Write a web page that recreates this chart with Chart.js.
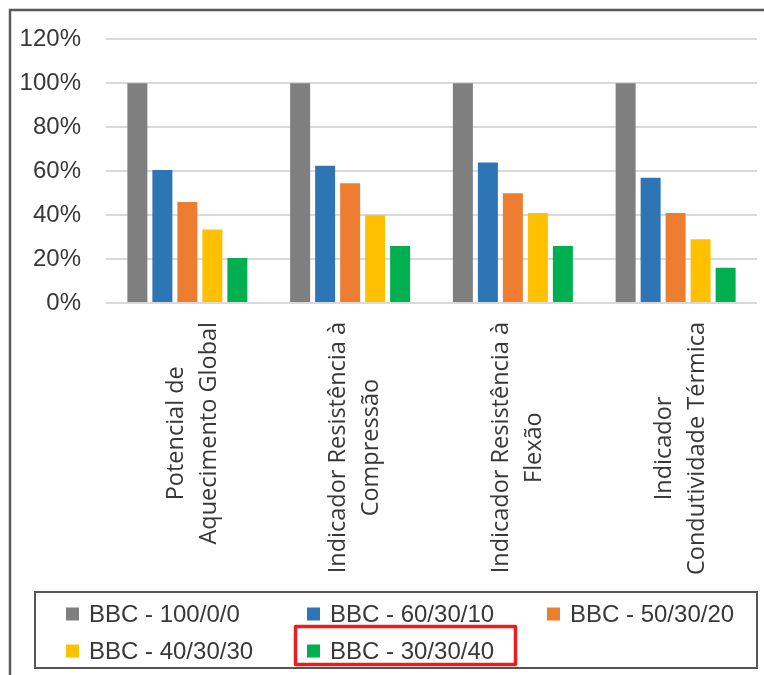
<!DOCTYPE html>
<html>
<head>
<meta charset="utf-8">
<script src="https://cdn.jsdelivr.net/npm/chart.js@4/dist/chart.umd.min.js"></script>
<style>
  html, body { margin: 0; padding: 0; background: #ffffff; }
  #chart { display: block; }
</style>
</head>
<body>
<canvas id="chart" width="764" height="675"></canvas>
<script>
// Categories (each split into its printed lines)
const categories = [
  ['Potencial de', 'Aquecimento Global'],
  ['Indicador Resistência à', 'Compressão'],
  ['Indicador Resistência à', 'Flexão'],
  ['Indicador', 'Condutividade Térmica']
];

// Series names
const seriesNames = ['BBC - 100/0/0', 'BBC - 60/30/10', 'BBC - 50/30/20', 'BBC - 40/30/30', 'BBC - 30/30/40'];

// Values (% relative to the reference mix)
const bbc100_0_0   = [100, 100, 100, 100];
const bbc60_30_10  = [60.5, 62.5, 64, 57];
const bbc50_30_20  = [46, 54.5, 50, 41];
const bbc40_30_30  = [33.5, 40, 41, 29];
const bbc30_30_40  = [20.5, 26, 26, 16];

// Value axis ticks
const yTicks = [0, 20, 40, 60, 80, 100, 120];

const seriesColors = ['#7f7f7f', '#2e75b6', '#ed7d31', '#ffc000', '#00b050'];
const seriesValues = [bbc100_0_0, bbc60_30_10, bbc50_30_20, bbc40_30_30, bbc30_30_40];

const TEXT_COLOR = '#383838';
const TICK_FONT = '24px "Liberation Sans", Arial, sans-serif';
const CAT_FONT = '23.5px "Open Sans", "DejaVu Sans", sans-serif';

// White page with the outer frame (top and left edges)
const framePlugin = {
  id: 'frame',
  beforeDraw(chart) {
    const ctx = chart.ctx;
    ctx.save();
    ctx.fillStyle = '#ffffff';
    ctx.fillRect(0, 0, chart.width, chart.height);
    ctx.strokeStyle = '#5a5a5a';
    ctx.lineWidth = 2.5;
    ctx.beginPath();
    ctx.moveTo(10, chart.height);
    ctx.lineTo(10, 10);
    ctx.lineTo(chart.width, 10);
    ctx.stroke();
    ctx.restore();
  }
};

// Rotated, centred multi-line category labels under each group
const categoryLabelPlugin = {
  id: 'categoryLabels',
  afterDraw(chart) {
    const ctx = chart.ctx;
    const xScale = chart.scales.x;
    const top = chart.chartArea.bottom + 19;
    const pitch = 33;
    ctx.save();
    ctx.font = CAT_FONT;
    ctx.fillStyle = TEXT_COLOR;
    ctx.textAlign = 'center';
    ctx.textBaseline = 'middle';
    categories.forEach((lines, i) => {
      const cx = xScale.getPixelForValue(i) + 5;
      const maxW = Math.max(...lines.map(l => ctx.measureText(l).width));
      const cy = top + maxW / 2;
      lines.forEach((line, j) => {
        const lx = cx + (j - (lines.length - 1) / 2) * pitch;
        ctx.save();
        ctx.translate(lx, cy);
        ctx.rotate(-Math.PI / 2);
        ctx.fillText(line, 0, 0);
        ctx.restore();
      });
    });
    ctx.restore();
  }
};

// Boxed legend in a three-column grid, with the last entry outlined in red
const boxedLegendPlugin = {
  id: 'boxedLegend',
  afterDraw(chart) {
    const ctx = chart.ctx;
    const box = { x: 35, y: 592, w: 722, h: 76 };
    const colX = [66, 307, 547];
    const rowY = [614, 651];
    const sq = 13;
    ctx.save();
    ctx.strokeStyle = '#555555';
    ctx.lineWidth = 2;
    ctx.strokeRect(box.x, box.y, box.w, box.h);
    ctx.font = TICK_FONT;
    ctx.textAlign = 'left';
    ctx.textBaseline = 'middle';
    chart.data.datasets.forEach((ds, i) => {
      const col = i % 3;
      const row = Math.floor(i / 3);
      const x = colX[col];
      const y = rowY[row];
      ctx.fillStyle = ds.backgroundColor;
      ctx.fillRect(x, y - sq / 2, sq, sq);
      ctx.fillStyle = TEXT_COLOR;
      ctx.fillText(ds.label, x + 23, y + 1);
    });
    // highlight around the last entry
    ctx.strokeStyle = '#ee1c1c';
    ctx.lineWidth = 3.5;
    ctx.lineJoin = 'round';
    ctx.strokeRect(295.5, 626.5, 220, 38);
    ctx.restore();
  }
};

new Chart(document.getElementById('chart'), {
  type: 'bar',
  data: {
    labels: categories,
    datasets: seriesNames.map((name, i) => ({
      label: name,
      data: seriesValues[i],
      backgroundColor: seriesColors[i],
      borderWidth: 0,
      categoryPercentage: 0.768,
      barPercentage: 0.8
    }))
  },
  options: {
    responsive: false,
    animation: false,
    devicePixelRatio: 1,
    layout: { padding: { left: 0, right: 7, top: 35, bottom: 0 } },
    plugins: {
      legend: { display: false },
      tooltip: { enabled: false }
    },
    scales: {
      x: {
        grid: { display: false },
        border: { display: false },
        ticks: { display: false },
        afterFit(scale) { scale.height = 675 - 303; }
      },
      y: {
        min: 0,
        max: 120,
        afterBuildTicks(scale) { scale.ticks = yTicks.map(v => ({ value: v })); },
        afterFit(scale) { scale.width = 106; },
        grid: { color: '#d9d9d9', lineWidth: 2, drawTicks: false },
        border: { display: false },
        ticks: {
          padding: 25,
          color: TEXT_COLOR,
          font: { family: '"Liberation Sans", Arial, sans-serif', size: 24 },
          callback: v => v + '%'
        }
      }
    }
  },
  plugins: [framePlugin, categoryLabelPlugin, boxedLegendPlugin]
});
</script>
</body>
</html>
